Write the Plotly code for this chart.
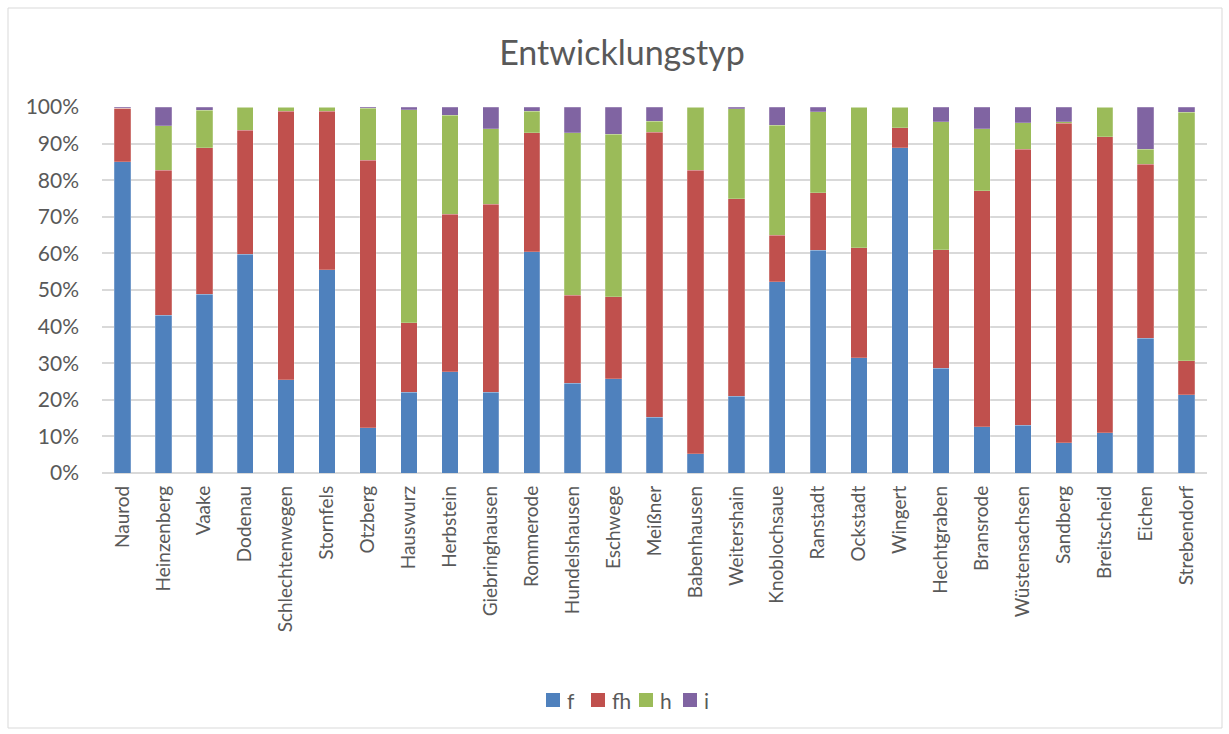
import plotly.graph_objects as go

# Anteile je Ort (in %), gestapelt auf 100 %
orte = ["Naurod", "Heinzenberg", "Vaake", "Dodenau", "Schlechtenwegen", "Stornfels",
        "Otzberg", "Hauswurz", "Herbstein", "Giebringhausen", "Rommerode",
        "Hundelshausen", "Eschwege", "Meißner", "Babenhausen", "Weitershain",
        "Knoblochsaue", "Ranstadt", "Ockstadt", "Wingert", "Hechtgraben",
        "Bransrode", "Wüstensachsen", "Sandberg", "Breitscheid", "Eichen", "Strebendorf"]

f_vals = [85.0, 43.1, 48.8, 59.8, 25.5, 55.5, 12.4, 22.0, 27.6, 22.1, 60.4, 24.5, 25.8, 15.2,
          5.2, 21.0, 52.3, 60.9, 31.5, 88.8, 28.6, 12.7, 13.0, 8.2, 11.0, 36.8, 21.4]
fh_vals = [14.7, 39.6, 40.0, 33.9, 73.3, 43.3, 73.0, 19.0, 43.1, 51.3, 32.5, 24.1, 22.4, 77.9,
           77.5, 54.0, 12.6, 15.7, 30.0, 5.6, 32.4, 64.4, 75.4, 87.3, 80.9, 47.5, 9.3]
h_vals = [0.0, 12.2, 10.3, 6.3, 1.2, 1.2, 14.2, 58.3, 27.1, 20.6, 5.9, 44.3, 44.4, 3.0,
          17.3, 24.5, 30.1, 22.1, 38.5, 5.6, 35.0, 17.0, 7.3, 0.5, 8.1, 4.2, 67.8]
i_vals = [0.3, 5.1, 0.9, 0.0, 0.0, 0.0, 0.4, 0.7, 2.2, 6.0, 1.2, 7.1, 7.4, 3.9,
          0.0, 0.5, 5.0, 1.3, 0.0, 0.0, 4.0, 5.9, 4.3, 4.0, 0.0, 11.5, 1.5]

tick_vals = [0, 10, 20, 30, 40, 50, 60, 70, 80, 90, 100]
tick_text = [f"{v}%" for v in tick_vals]

series = [("f", f_vals, "#4F81BD"), ("fh", fh_vals, "#C0504D"),
          ("h", h_vals, "#9BBB59"), ("i", i_vals, "#8064A2")]

text_col = "#595959"
font_family = "Lato, Carlito, Calibri, sans-serif"

W, H = 1229, 734
L, R, T, B = 102, 22, 107, 261
pw, ph = W - L - R, H - T - B

fig = go.Figure()
for name, vals, col in series:
    fig.add_trace(go.Bar(
        x=orte, y=vals, name=name, showlegend=False,
        marker=dict(color=col, line=dict(color="rgba(255,255,255,0.35)", width=0.6)),
    ))

fig.update_layout(
    barmode="stack",
    barnorm="percent",
    bargap=0.6,
    width=W, height=H,
    margin=dict(l=L, r=R, t=T, b=B),
    paper_bgcolor="white",
    plot_bgcolor="white",
    font=dict(family=font_family, color=text_col, size=19),
    title=dict(text="Entwicklungstyp", x=622 / W, xanchor="center",
               y=1 - 53 / H, yanchor="middle",
               font=dict(size=34, color=text_col, family=font_family)),
    xaxis=dict(tickangle=-90, showgrid=False, showline=False, ticks="",
               ticklabelstandoff=8,
               tickfont=dict(size=19, color=text_col)),
    yaxis=dict(range=[0, 100], tickvals=tick_vals, ticktext=tick_text,
               showgrid=True, gridcolor="#D9D9D9", gridwidth=1.5,
               zeroline=True, zerolinecolor="#D9D9D9", zerolinewidth=1.5,
               showline=False, ticks="", ticklen=0, ticklabelstandoff=22,
               tickfont=dict(size=21, color=text_col)),
)


def px_x(x):
    return (x - L) / pw


def px_y(y):
    return (H - B - y) / ph


# Legende unter dem Diagramm: Farbquadrat + Beschriftung
legend_left = [546, 591, 639, 683]
sq = 14
ly = 700
for (name, _, col), x0 in zip(series, legend_left):
    fig.add_shape(type="rect", xref="paper", yref="paper",
                  x0=px_x(x0), x1=px_x(x0 + sq),
                  y0=px_y(ly + sq / 2), y1=px_y(ly - sq / 2),
                  fillcolor=col, line=dict(width=0))
    fig.add_annotation(xref="paper", yref="paper", x=px_x(x0 + sq + 5), y=px_y(ly),
                       text=name, showarrow=False, xanchor="left", yanchor="middle",
                       font=dict(size=21, color=text_col, family=font_family))

# Rahmen des Diagrammbereichs
fig.add_shape(type="rect", xref="paper", yref="paper",
              x0=px_x(8), x1=px_x(1222),
              y0=px_y(728), y1=px_y(8),
              line=dict(color="#D9D9D9", width=1), layer="below")

fig.write_html("out.html")
